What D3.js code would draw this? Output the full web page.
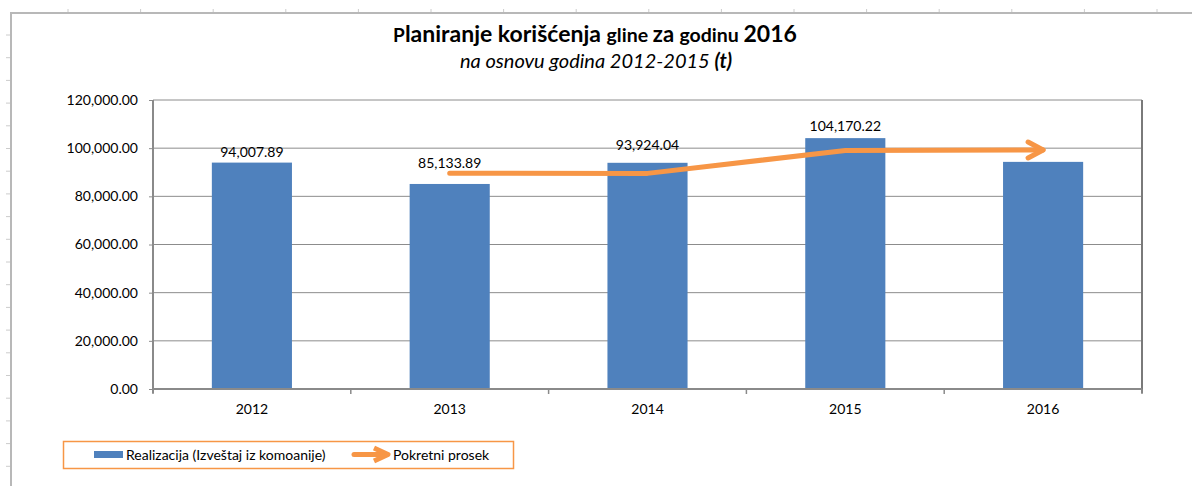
<!DOCTYPE html>
<html>
<head>
<meta charset="utf-8">
<script src="https://cdn.jsdelivr.net/npm/d3@7/dist/d3.min.js"></script>
<style>
  body { margin: 0; background: #fff; overflow: hidden; }
  text { font-family: Lato, "Liberation Sans", sans-serif; fill: #000; }
</style>
</head>
<body>
<div id="canvas"></div>
<script>
// data
var years = ["2012", "2013", "2014", "2015", "2016"];
var realizacija = [94007.89, 85133.89, 93924.04, 104170.22, 94309.01];
var shownLabels = ["94,007.89", "85,133.89", "93,924.04", "104,170.22", ""];
var prosekYears = ["2013", "2014", "2015", "2016"];
var prosek = [89570.89, 89528.97, 99047.13, 99239.62];
var yTicks = [0, 20000, 40000, 60000, 80000, 100000, 120000];

var W = 1192, H = 486;
var blue = "#4f81bd", orange = "#f79646", grid = "#8c8c8c";
// how far each data label sits above its bar (labels were moved by hand in the original)
var labelLift = [6, 16, 13, 7, 0];

var svg = d3.select("#canvas").append("svg")
    .attr("width", W).attr("height", H);

// spreadsheet cell ticks around the chart object
var rowTicks = d3.range(35, H, 22.7);
svg.selectAll("line.rowtick").data(rowTicks).enter().append("line")
    .attr("x1", 6).attr("x2", 10).attr("y1", function (d) { return d; }).attr("y2", function (d) { return d; })
    .style("stroke", "#ccc");
var colTicks = d3.range(68, W, 72.6);
svg.selectAll("line.coltick").data(colTicks).enter().append("line")
    .attr("y1", 9).attr("y2", 12).attr("x1", function (d) { return d; }).attr("x2", function (d) { return d; })
    .style("stroke", "#ccc");
// chart area border (left and top visible)
svg.append("path").attr("d", "M11," + H + " L11,13 L" + W + ",13")
    .style("fill", "none").style("stroke", "#b8b8b8").style("stroke-width", 2);

var plotLeft = 153, plotRight = 1142, plotTop = 100, plotBottom = 389;

var x = d3.scaleBand().domain(years).range([plotLeft, plotRight]).paddingInner(0.595).paddingOuter(0.2975);
var xOuter = d3.scaleBand().domain(years).range([plotLeft, plotRight]);
var y = d3.scaleLinear().domain([0, 120000]).range([plotBottom, plotTop]);

// gridlines
svg.append("g").selectAll("line").data(yTicks).enter().append("line")
    .attr("x1", plotLeft).attr("x2", plotRight)
    .attr("y1", function (d) { return y(d); }).attr("y2", function (d) { return y(d); })
    .style("stroke", grid).style("stroke-width", 1);
// right border
svg.append("line").attr("x1", plotRight).attr("x2", plotRight).attr("y1", plotTop).attr("y2", plotBottom + 4)
    .style("stroke", "#7a7a7a").style("stroke-width", 2);

// bars
svg.append("g").selectAll("rect").data(realizacija).enter().append("rect")
    .attr("x", function (d, i) { return x(years[i]); })
    .attr("width", x.bandwidth())
    .attr("y", function (d) { return y(d); })
    .attr("height", function (d) { return plotBottom - y(d); })
    .style("fill", blue);

// y axis
var yAxis = d3.axisLeft(y).tickValues(yTicks).tickFormat(d3.format(",.2f")).tickSize(4).tickPadding(11);
var gy = svg.append("g").attr("transform", "translate(" + plotLeft + ",0)").call(yAxis);
gy.select(".domain").remove();
gy.append("line").attr("x1", 0).attr("x2", 0).attr("y1", plotTop).attr("y2", plotBottom + 4)
    .style("stroke", "#8a8a8a").style("stroke-width", 2);
gy.selectAll(".tick line").style("stroke", grid);
gy.selectAll(".tick text").style("font-size", "14px").style("font-family", "Lato, sans-serif").attr("fill", "#000");

// x axis
var xAxis = d3.axisBottom(xOuter).tickSize(0).tickPadding(15);
var gx = svg.append("g").attr("transform", "translate(0," + plotBottom + ")").call(xAxis);
gx.select(".domain").remove();
gx.append("line").attr("x1", plotLeft).attr("x2", plotRight).attr("y1", 0).attr("y2", 0)
    .style("stroke", "#8a8a8a").style("stroke-width", 2);
gx.selectAll("line.cat").data(years.concat(["end"])).enter().append("line")
    .attr("x1", function (d, i) { return plotLeft + i * xOuter.step(); })
    .attr("x2", function (d, i) { return plotLeft + i * xOuter.step(); })
    .attr("y1", 0).attr("y2", 5).style("stroke", "#8a8a8a").style("stroke-width", 1.5);
gx.selectAll(".tick text").style("font-size", "14px").style("font-family", "Lato, sans-serif").attr("fill", "#000");

// moving average line with arrowhead
var line = d3.line()
    .x(function (d, i) { return xOuter(prosekYears[i]) + xOuter.bandwidth() / 2; })
    .y(function (d) { return y(d); });
svg.append("path").datum(prosek).attr("d", line)
    .style("fill", "none").style("stroke", orange).style("stroke-width", 5)
    .style("stroke-linecap", "round").style("stroke-linejoin", "round");
var tipX = xOuter(prosekYears[prosek.length - 1]) + xOuter.bandwidth() / 2;
var tipY = y(prosek[prosek.length - 1]);
svg.append("path")
    .attr("d", "M" + (tipX - 15) + "," + (tipY - 8) + " L" + tipX + "," + tipY + " L" + (tipX - 15) + "," + (tipY + 8))
    .style("fill", "none").style("stroke", orange).style("stroke-width", 5)
    .style("stroke-linecap", "round").style("stroke-linejoin", "round");

// data labels
svg.append("g").selectAll("text").data(realizacija).enter().append("text")
    .attr("x", function (d, i) { return x(years[i]) + x.bandwidth() / 2; })
    .attr("y", function (d, i) { return y(d) - labelLift[i]; })
    .attr("text-anchor", "middle")
    .style("font-size", "14px")
    .text(function (d, i) { return shownLabels[i]; });

// title
var title = svg.append("text").attr("x", 595).attr("y", 42).attr("text-anchor", "middle")
    .style("font-weight", "bold");
title.append("tspan").style("font-size", "19px").text("P");
title.append("tspan").style("font-size", "23px").text("laniranje korišćenja ");
title.append("tspan").style("font-size", "19.5px").text("gline ");
title.append("tspan").style("font-size", "22px").text("za ");
title.append("tspan").style("font-size", "19.5px").text("godinu ");
title.append("tspan").style("font-size", "23px").text("2016");

var sub = svg.append("text").attr("x", 596).attr("y", 68).attr("text-anchor", "middle")
    .style("font-size", "20px").style("font-style", "italic");
sub.append("tspan").text("na osnovu godina 2012-2015  ");
sub.append("tspan").style("font-weight", "bold").text("(t)");

// legend
var lg = svg.append("g");
lg.append("rect").attr("x", 63.5).attr("y", 441.5).attr("width", 450).attr("height", 27)
    .style("fill", "#fff").style("stroke", orange).style("stroke-width", 1.5);
lg.append("rect").attr("x", 94).attr("y", 451).attr("width", 29).attr("height", 7).style("fill", blue);
lg.append("text").attr("x", 126).attr("y", 459.5).style("font-size", "14px").text("Realizacija (Izveštaj iz komoanije)");
lg.append("path").attr("d", "M354,454.5 L386,454.5")
    .style("stroke", orange).style("stroke-width", 5).style("stroke-linecap", "round");
lg.append("path").attr("d", "M374,448 L388,454.5 L374,461")
    .style("fill", "none").style("stroke", orange).style("stroke-width", 5).style("stroke-linejoin", "round");
lg.append("text").attr("x", 393).attr("y", 459.5).style("font-size", "14px").text("Pokretni prosek");
</script>
</body>
</html>
